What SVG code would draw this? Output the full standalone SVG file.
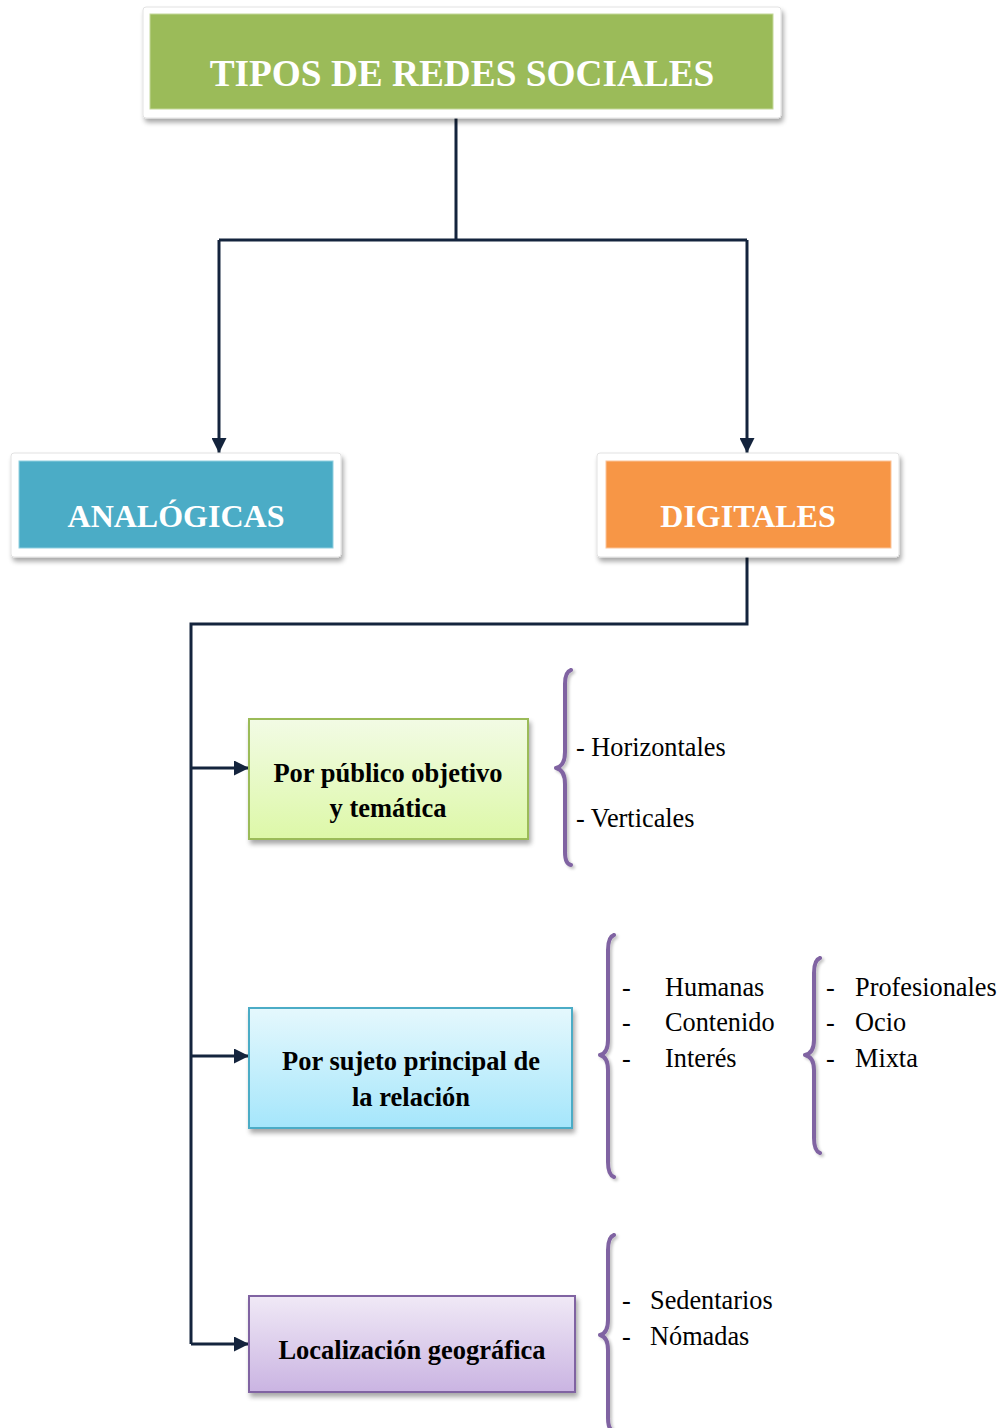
<svg xmlns="http://www.w3.org/2000/svg" width="1004" height="1428" viewBox="0 0 1004 1428">
  <defs>
    <style>
      .frame { fill: #ffffff; stroke: #e2e2e2; stroke-width: 1; }
      .head { font-family: "Liberation Serif", "Times New Roman", serif; font-weight: bold; fill: #ffffff; text-anchor: middle; }
      .label { font-family: "Liberation Serif", "Times New Roman", serif; font-weight: bold; font-size: 26.5px; fill: #000000; text-anchor: middle; }
      .item { font-family: "Liberation Serif", "Times New Roman", serif; font-size: 26.3px; fill: #000000; }
      .wire { fill: none; stroke: #14243d; stroke-width: 3; }
      .brace { fill: none; stroke: #8064a2; stroke-width: 4; stroke-linecap: round; stroke-linejoin: round; }
    </style>
    <filter id="shadow" x="-10%" y="-10%" width="125%" height="135%">
      <feGaussianBlur in="SourceAlpha" stdDeviation="2.5"/>
      <feOffset dx="2" dy="4" result="b"/>
      <feComponentTransfer><feFuncA type="linear" slope="0.35"/></feComponentTransfer>
      <feMerge><feMergeNode/><feMergeNode in="SourceGraphic"/></feMerge>
    </filter>
    <filter id="soft" x="-50%" y="-5%" width="200%" height="110%">
      <feGaussianBlur in="SourceAlpha" stdDeviation="1.5"/>
      <feOffset dx="2" dy="2"/>
      <feComponentTransfer><feFuncA type="linear" slope="0.25"/></feComponentTransfer>
      <feMerge><feMergeNode/><feMergeNode in="SourceGraphic"/></feMerge>
    </filter>
    <linearGradient id="gGreen" x1="0" y1="0" x2="0" y2="1">
      <stop offset="0" stop-color="#f2fbe5"/>
      <stop offset="1" stop-color="#ddf8a8"/>
    </linearGradient>
    <linearGradient id="gBlue" x1="0" y1="0" x2="0" y2="1">
      <stop offset="0" stop-color="#e5f8fd"/>
      <stop offset="1" stop-color="#a5e6fb"/>
    </linearGradient>
    <linearGradient id="gPurple" x1="0" y1="0" x2="0" y2="1">
      <stop offset="0" stop-color="#f0e9f6"/>
      <stop offset="1" stop-color="#cab4e2"/>
    </linearGradient>
    <marker id="arrow" viewBox="0 0 10 10" refX="10" refY="5" markerWidth="15" markerHeight="15" markerUnits="userSpaceOnUse" orient="auto">
      <path d="M0,0 L10,5 L0,10 Z" fill="#14243d"/>
    </marker>
  </defs>

  <rect width="1004" height="1428" fill="#ffffff"/>

  <!-- connectors -->
  <g id="connectors">
    <path class="wire" d="M456,118 V240 M219,240 H747"/>
    <path class="wire" d="M219,240 V453" marker-end="url(#arrow)"/>
    <path class="wire" d="M747,240 V453" marker-end="url(#arrow)"/>
    <path class="wire" d="M747,548 V624 H191 V1344"/>
    <path class="wire" d="M191,768 H249" marker-end="url(#arrow)"/>
    <path class="wire" d="M191,1056 H249" marker-end="url(#arrow)"/>
    <path class="wire" d="M191,1344 H249" marker-end="url(#arrow)"/>
  </g>

  <!-- root -->
  <g id="tipos">
    <rect class="frame" x="143" y="7" width="638" height="111" rx="3" filter="url(#shadow)"/>
    <rect x="150" y="14" width="623" height="95" fill="#9bbb59" stroke="#c4d89a" stroke-width="1"/>
    <text class="head" x="462" y="86" font-size="37.3">TIPOS DE REDES SOCIALES</text>
  </g>

  <g id="analogicas">
    <rect class="frame" x="11" y="453" width="330" height="104" rx="3" filter="url(#shadow)"/>
    <rect x="19" y="461" width="314" height="87" fill="#4bacc6" stroke="#8fcfe0" stroke-width="1"/>
    <text class="head" x="176" y="527" font-size="32">ANALÓGICAS</text>
  </g>

  <g id="digitales">
    <rect class="frame" x="597" y="453" width="302" height="104" rx="3" filter="url(#shadow)"/>
    <rect x="606" y="461" width="285" height="87" fill="#f79646" stroke="#fbc49a" stroke-width="1"/>
    <text class="head" x="748" y="527" font-size="32">DIGITALES</text>
  </g>

  <!-- first branch -->
  <g id="publico">
    <rect x="249" y="719" width="279" height="120" fill="url(#gGreen)" stroke="#9bbb59" stroke-width="2" filter="url(#shadow)"/>
    <text class="label" x="388" y="782">Por público objetivo</text>
    <text class="label" x="388" y="817">y temática</text>
  </g>
  <g id="publico-tipos">
    <path class="brace" filter="url(#soft)" d="M571,670 Q565,672 565,684 V752 Q565,766 556,768 Q565,770 565,784 V852 Q565,864 571,865"/>
    <text class="item" x="576" y="756">- Horizontales</text>
    <text class="item" x="576" y="827">- Verticales</text>
  </g>

  <!-- second branch -->
  <g id="sujeto">
    <rect x="249" y="1008" width="323" height="120" fill="url(#gBlue)" stroke="#4bacc6" stroke-width="2" filter="url(#shadow)"/>
    <text class="label" x="411" y="1070">Por sujeto principal de</text>
    <text class="label" x="411" y="1106">la relación</text>
  </g>
  <g id="sujeto-tipos">
    <path class="brace" filter="url(#soft)" d="M614,935 Q608,937 608,950 V1040 Q608,1053 600,1055 Q608,1057 608,1070 V1162 Q608,1175 614,1177"/>
    <text class="item" x="622" y="996">-</text>
    <text class="item" x="622" y="1031">-</text>
    <text class="item" x="622" y="1067">-</text>
    <text class="item" x="665" y="996">Humanas</text>
    <text class="item" x="665" y="1031">Contenido</text>
    <text class="item" x="665" y="1067">Interés</text>
  </g>
  <g id="interes-tipos">
    <path class="brace" filter="url(#soft)" d="M820,958 Q814,960 814,973 V1040 Q814,1053 805,1055 Q814,1057 814,1070 V1138 Q814,1151 820,1153"/>
    <text class="item" x="826" y="996">-</text>
    <text class="item" x="826" y="1031">-</text>
    <text class="item" x="826" y="1067">-</text>
    <text class="item" x="855" y="996">Profesionales</text>
    <text class="item" x="855" y="1031">Ocio</text>
    <text class="item" x="855" y="1067">Mixta</text>
  </g>

  <!-- third branch -->
  <g id="localizacion">
    <rect x="249" y="1296" width="326" height="96" fill="url(#gPurple)" stroke="#8064a2" stroke-width="2" filter="url(#shadow)"/>
    <text class="label" x="412" y="1359">Localización geográfica</text>
  </g>
  <g id="localizacion-tipos">
    <path class="brace" filter="url(#soft)" d="M614,1235 Q608,1237 608,1250 V1320 Q608,1333 600,1335 Q608,1337 608,1350 V1418 Q608,1430 614,1432"/>
    <text class="item" x="622" y="1309">-</text>
    <text class="item" x="622" y="1345">-</text>
    <text class="item" x="650" y="1309">Sedentarios</text>
    <text class="item" x="650" y="1345">Nómadas</text>
  </g>
</svg>
